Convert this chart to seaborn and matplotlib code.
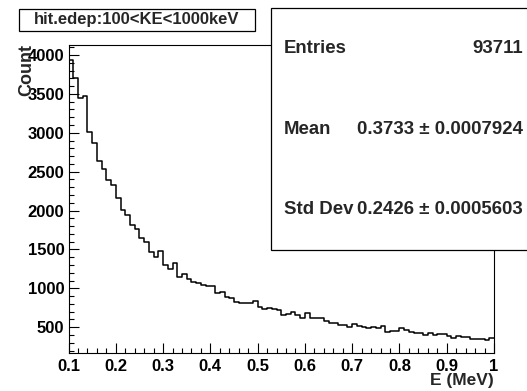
import numpy as np
import pandas as pd
import matplotlib
matplotlib.use("Agg")
import matplotlib.pyplot as plt
import seaborn as sns
from matplotlib.patches import Rectangle
from matplotlib.ticker import MultipleLocator, FixedLocator

# ---- data ----
counts = [3930, 3700, 3443, 3477, 3006, 2873, 2638, 2531, 2393, 2329,
          2158, 2008, 1944, 1815, 1759, 1644, 1600, 1472, 1407, 1481,
          1301, 1246, 1323, 1150, 1181, 1117, 1086, 1065, 1044, 1031,
          1025, 937, 958, 893, 873, 829, 816, 816, 816, 838,
          757, 731, 744, 740, 722, 658, 670, 693, 658, 616,
          680, 616, 616, 616, 581, 559, 551, 530, 530, 508,
          542, 517, 508, 487, 500, 487, 517, 443, 445, 456,
          487, 465, 436, 423, 423, 401, 420, 395, 414, 414,
          392, 366, 388, 380, 375, 346, 346, 346, 337, 359]
e_min, e_max, n_bins = 0.1, 1.0, 90
x_ticks = [0.1, 0.2, 0.3, 0.4, 0.5, 0.6, 0.7, 0.8, 0.9, 1.0]
x_tick_labels = ["0.1", "0.2", "0.3", "0.4", "0.5", "0.6", "0.7", "0.8", "0.9", "1"]
y_ticks = [500, 1000, 1500, 2000, 2500, 3000, 3500, 4000]
y_tick_labels = ["500", "1000", "1500", "2000", "2500", "3000", "3500", "4000"]
title = "hit.edep:100<KE<1000keV"
x_label = "E (MeV)"
y_label = "Count"
stats_names = ["Entries", "Mean", "Std Dev"]
stats_values = ["93711", "0.3733 \u00b1 0.0007924", "0.2426 \u00b1 0.0005603"]

sns.set_style("white")
plt.rcParams["font.family"] = ["Liberation Sans", "DejaVu Sans"]
plt.rcParams["font.weight"] = "bold"

edges = np.linspace(e_min, e_max, n_bins + 1)
centers = (edges[:-1] + edges[1:]) / 2
df = pd.DataFrame({"E": centers, "Count": counts})

W, H = 527, 391
fig = plt.figure(figsize=(W / 100, H / 100), dpi=100)
fig.patch.set_facecolor("white")
ax = fig.add_axes([68.5 / W, 1 - 353 / H, 425.5 / W, 308 / H])

sns.histplot(data=df, x="E", weights="Count", bins=n_bins, binrange=(e_min, e_max),
             element="step", fill=False, color="black", linewidth=1.1, ax=ax)

ax.set_xlim(e_min, e_max)
ax.set_ylim(168, 4128)

ax.xaxis.set_major_locator(FixedLocator(x_ticks))
ax.set_xticklabels(x_tick_labels)
ax.xaxis.set_minor_locator(MultipleLocator(0.02))
ax.yaxis.set_major_locator(FixedLocator(y_ticks))
ax.set_yticklabels(y_tick_labels)
ax.yaxis.set_minor_locator(MultipleLocator(100))

ax.tick_params(axis="both", which="major", direction="in", length=7.5, width=0.8,
               labelsize=12, colors="black")
ax.tick_params(axis="both", which="minor", direction="in", length=3.8, width=0.8,
               colors="black")
ax.tick_params(axis="x", which="major", pad=4)
ax.tick_params(axis="y", which="major", pad=3)
ax.tick_params(left=True, bottom=True, which="both")
for lab in ax.get_xticklabels() + ax.get_yticklabels():
    lab.set_fontweight("bold")

for s in ax.spines.values():
    s.set_color("black")
    s.set_linewidth(0.8)
    s.set_visible(True)

ax.set_xlabel(x_label, fontsize=12.5, fontweight="bold", loc="right")
ax.xaxis.set_label_coords(1.0, -0.064)
ax.set_ylabel("")
fig.text(26.5 / W, 1 - 44 / H, y_label, rotation=90, ha="center", va="top",
         fontsize=13, fontweight="bold", zorder=6)

# title box
fig.add_artist(Rectangle((19 / W, 1 - 30.5 / H), 236 / W, 21.5 / H,
                         transform=fig.transFigure, facecolor="white",
                         edgecolor="black", linewidth=0.9, zorder=5))
fig.text(137 / W, 1 - 19.8 / H, title, ha="center", va="center",
         fontsize=12, fontweight="bold", zorder=6)

# stats box
fig.add_artist(Rectangle((271 / W, 1 - 249.5 / H), (W - 271 + 10) / W, (249.5 - 8.3) / H,
                         transform=fig.transFigure, facecolor="white",
                         edgecolor="black", linewidth=0.9, zorder=5))
for name, val, yc in zip(stats_names, stats_values, [48.3, 129.3, 210.0]):
    fig.text(284 / W, 1 - yc / H, name, ha="left", va="center",
             fontsize=13.4, fontweight="bold", zorder=6)
    fig.text(523 / W, 1 - yc / H, val, ha="right", va="center",
             fontsize=13.4, fontweight="bold", zorder=6)

fig.savefig("out.png", dpi=100)
